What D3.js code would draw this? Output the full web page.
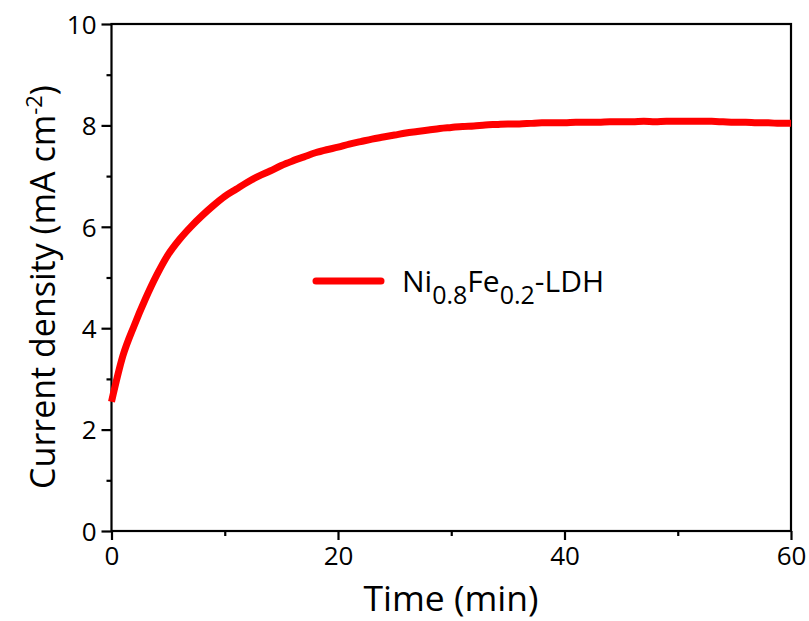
<!DOCTYPE html>
<html>
<head>
<meta charset="utf-8">
<script src="https://cdn.jsdelivr.net/npm/d3@7"></script>
<style>
  html, body { margin: 0; padding: 0; background: #fff; }
  svg text { font-family: "Open Sans", "Noto Sans", sans-serif; fill: #000; }
</style>
</head>
<body>
<svg id="chart" width="809" height="621"></svg>
<script>
// Chronoamperometry trace, one reading per minute
const timeMin = d3.range(0, 61);
const currentDensity = [
  2.55, 3.45, 4.05, 4.58, 5.05, 5.45, 5.75, 6.00, 6.22, 6.42,
  6.60, 6.74, 6.88, 7.00, 7.10, 7.21, 7.30, 7.38, 7.46, 7.52,
  7.57, 7.63, 7.68, 7.73, 7.77, 7.81, 7.85, 7.88, 7.91, 7.94,
  7.96, 7.98, 7.99, 8.01, 8.02, 8.03, 8.03, 8.04, 8.05, 8.05,
  8.05, 8.06, 8.06, 8.06, 8.07, 8.07, 8.07, 8.08, 8.07, 8.08,
  8.08, 8.08, 8.08, 8.08, 8.07, 8.06, 8.06, 8.05, 8.05, 8.04,
  8.04
];
const xTicks = [0, 20, 40, 60];
const xMinorTicks = [10, 30, 50];
const yTicks = [0, 2, 4, 6, 8, 10];
const yMinorTicks = [1, 3, 5, 7, 9];
const seriesName = { base: "Ni", s1: "0.8", mid: "Fe", s2: "0.2", tail: "-LDH" };

const svg = d3.select("#chart");
const plotL = 111.5, plotR = 791, plotT = 24, plotB = 531;

const x = d3.scaleLinear().domain([0, 60]).range([plotL, plotR]);
const y = d3.scaleLinear().domain([0, 10]).range([plotB, plotT]);

// frame
svg.append("rect")
  .attr("x", plotL).attr("y", plotT)
  .attr("width", plotR - plotL).attr("height", plotB - plotT)
  .attr("fill", "none").attr("stroke", "#000").attr("stroke-width", 2.2);

// axes
const tickFont = 26;
const xAxis = svg.append("g").attr("transform", `translate(0,${plotB})`)
  .call(d3.axisBottom(x).tickValues(xTicks).tickSize(9).tickPadding(7).tickFormat(d3.format("d")));
xAxis.append("g").call(d3.axisBottom(x).tickValues(xMinorTicks).tickSize(5).tickFormat(""));

const yAxis = svg.append("g").attr("transform", `translate(${plotL},0)`)
  .call(d3.axisLeft(y).tickValues(yTicks).tickSize(10).tickPadding(5).tickFormat(d3.format("d")));
yAxis.append("g").call(d3.axisLeft(y).tickValues(yMinorTicks).tickSize(5).tickFormat(""));

svg.selectAll(".domain").remove();
svg.selectAll(".tick line").attr("stroke", "#000").attr("stroke-width", 2.2);
svg.selectAll(".tick text").attr("font-size", tickFont).attr("font-family", "Open Sans, sans-serif").attr("fill", "#000");
yAxis.selectAll(".tick text").attr("dy", "0.36em");

// data line
const line = d3.line().x((d, i) => x(timeMin[i])).y(d => y(d)).curve(d3.curveMonotoneX);
svg.append("path")
  .datum(currentDensity)
  .attr("d", line)
  .attr("fill", "none")
  .attr("stroke", "#ff0000")
  .attr("stroke-width", 7)
  .attr("stroke-linejoin", "round")
  .attr("stroke-linecap", "butt");

// axis titles
svg.append("text")
  .attr("x", 451).attr("y", 611)
  .attr("text-anchor", "middle").attr("font-size", 35.5)
  .text("Time (min)");

const yt = svg.append("text")
  .attr("transform", `translate(55,287) rotate(-90)`)
  .attr("text-anchor", "middle").attr("font-size", 34);
yt.append("tspan").text("Current density (mA cm");
yt.append("tspan").attr("font-size", 22).attr("dy", -13).text("-2");
yt.append("tspan").attr("dy", 13).text(")");

// legend
const ly = 281;
svg.append("line")
  .attr("x1", 316).attr("x2", 381).attr("y1", ly).attr("y2", ly)
  .attr("stroke", "#ff0000").attr("stroke-width", 7).attr("stroke-linecap", "round");
const lt = svg.append("text").attr("x", 402).attr("y", 292).attr("font-size", 30);
lt.append("tspan").text(seriesName.base);
lt.append("tspan").attr("font-size", 25).attr("dy", 12).text(seriesName.s1);
lt.append("tspan").attr("dy", -12).text(seriesName.mid);
lt.append("tspan").attr("font-size", 25).attr("dy", 12).text(seriesName.s2);
lt.append("tspan").attr("dy", -12).text(seriesName.tail);
</script>
</body>
</html>
